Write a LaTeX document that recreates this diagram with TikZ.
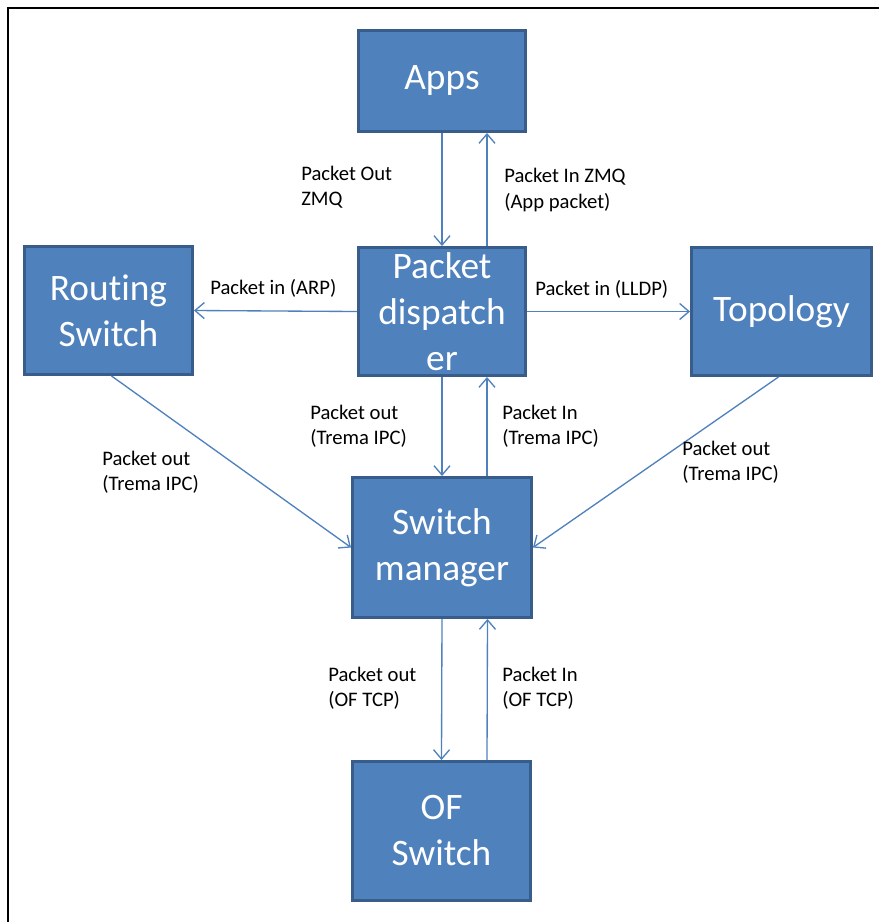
\documentclass[tikz,border=0pt]{standalone}
\usepackage{fontspec}
\setmainfont{Carlito}[Ligatures=NoCommon]
\usepackage{tikz}
\usetikzlibrary{arrows.meta,calc}
\definecolor{BoxBlue}{RGB}{79,129,189}
\definecolor{BoxEdge}{RGB}{56,93,138}
\definecolor{ArrBlue}{RGB}{79,129,189}

\begin{document}
\begin{tikzpicture}[x=0.75pt,y=-0.75pt,
  box/.style={draw=BoxEdge,fill=BoxBlue,line width=2.2pt,text=white,
              align=center,inner sep=0pt,
              font=\fontsize{28}{34.5}\selectfont},
  arr/.style={-{Straight Barb[length=7pt,width=12pt]},line width=1pt,ArrBlue},
  lbl/.style={anchor=west,align=left,inner sep=0pt,
              font=\fontsize{15.5}{19}\selectfont},
]
\useasboundingbox (0,0) rectangle (879,922);
\draw[line width=2pt] (8,922) -- (8,8) -- (879,8);
\node[box,minimum width=125.25pt,minimum height=75.75pt] (apps) at (442,81) {Apps};
\node[box,minimum width=125.25pt,minimum height=96pt] (disp) at (442,311.5)
  {Packet\\dispatch\\er};
\node[box,minimum width=126pt,minimum height=96pt] (route) at (108.5,310.5)
  {Routing\\Switch};
\node[box,minimum width=135pt,minimum height=96pt] (topo) at (781.5,311.5)
  {Topology};
\node[box,minimum width=134.25pt,minimum height=105pt] (swm) at (442,547.5)
  {Switch\\manager};
\node[box,minimum width=133.5pt,minimum height=104.25pt] (ofsw) at (441.5,831)
  {OF\\Switch};
\draw[arr] (apps.south) -- (disp.north);
\draw[arr] ($(disp.north)+(45,0)$) -- ($(apps.south)+(45,0)$);
\draw[arr] (disp.west) -- (route.east);
\draw[arr] (disp.east) -- (topo.west);
\draw[arr] (disp.south) -- (swm.north);
\draw[arr] ($(swm.north)+(45,0)$) -- ($(disp.south)+(45,0)$);
\draw[arr] ($(route.south)+(3,0)$) -- (swm.west);
\draw[arr] ($(topo.south)+(-3,0)$) -- (swm.east);
\draw[arr] (swm.south) -- (ofsw.north);
\draw[arr] ($(ofsw.north)+(45.5,0)$) -- ($(swm.south)+(45.5,0)$);
\node[lbl] (lout) at (301,187) {Packet Out\\ZMQ};
\node[lbl] (lin) at (504,190) {Packet In ZMQ\\(App packet)};
\node[lbl] (larp) at (210,288) {Packet in (ARP)};
\node[lbl] (llldp) at (535,289) {Packet in (LLDP)};
\node[lbl] (ltout) at (310,426) {Packet out\\(Trema IPC)};
\node[lbl] (ltin) at (502,426) {Packet In\\(Trema IPC)};
\node[lbl] (lrout) at (102,472) {Packet out\\(Trema IPC)};
\node[lbl] (ltpout) at (682,462) {Packet out\\(Trema IPC)};
\node[lbl] (lofout) at (328,688) {Packet out\\(OF TCP)};
\node[lbl] (lofin) at (502,688) {Packet In\\(OF TCP)};
\end{tikzpicture}
\end{document}
